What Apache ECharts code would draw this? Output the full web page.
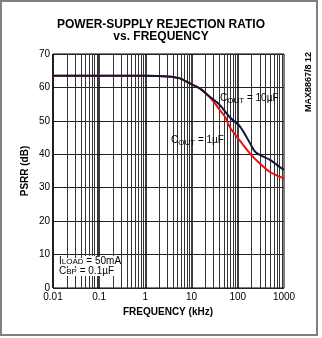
<!DOCTYPE html>
<html>
<head>
<meta charset="utf-8">
<script src="https://cdn.jsdelivr.net/npm/echarts@6/dist/echarts.min.js"></script>
<style>
  html, body { margin: 0; padding: 0; background: #fff; }
  #chart { width: 322px; height: 338px; }
</style>
</head>
<body>
<div id="chart"></div>
<script>
// PSRR vs frequency, two output capacitor values
const freqKHz10uF = [0.01, 1, 3, 5.6, 9.2, 15, 25, 41, 68, 112, 184, 236, 303, 498, 891, 1000];
const psrr10uF    = [63.5, 63.5, 63.3, 62.7, 61.2, 59.7, 57.2, 54.7, 51.0, 48.3, 43.3, 40.8, 39.8, 38.3, 35.8, 35.4];

const freqKHz1uF  = [0.01, 1, 3, 5.6, 9.2, 15, 25, 32, 41, 53, 68, 112, 184, 303, 498, 966, 1000];
const psrr1uF     = [63.5, 63.5, 63.3, 62.7, 61.2, 59.7, 57.0, 55.2, 53.2, 51.2, 48.0, 44.0, 40.2, 37.2, 34.7, 32.8, 32.6];

const xTickLabels = ['0.01', '0.1', '1', '10', '100', '1000'];
const yTicks = [0, 10, 20, 30, 40, 50, 60, 70];

// vertical grid lines at 1..9 of each decade
const decades = [0.01, 0.1, 1, 10, 100];
const vLines = [];
decades.forEach(d => {
  for (let k = 1; k <= 9; k++) {
    vLines.push({ xAxis: +(k * d).toPrecision(3), lineStyle: { color: k === 1 ? '#000' : '#333', width: k === 1 ? 1.5 : 1 } });
  }
});

const FONT = 'Liberation Sans, Arial, sans-serif';
const chart = echarts.init(document.getElementById('chart'), null, { renderer: 'canvas' });

const gridL = 53, gridR = 38, gridT = 54, gridB = 50;

const subRich = {
  b: { fontSize: 10, fontFamily: FONT, lineHeight: 13 },
  s: { fontSize: 8, fontFamily: FONT, verticalAlign: 'bottom', lineHeight: 8 }
};

chart.setOption({
  animation: false,
  backgroundColor: '#fff',
  grid: { left: gridL, right: gridR, top: gridT, bottom: gridB, show: true, borderColor: '#000', borderWidth: 1 },
  xAxis: {
    type: 'log', logBase: 10, min: 0.01, max: 1000,
    axisLine: { show: false }, axisTick: { show: false },
    splitLine: { show: false },
    axisLabel: {
      color: '#000', fontFamily: FONT, fontSize: 10, margin: 4,
      formatter: v => {
        const i = Math.round(Math.log10(v)) + 2;
        return xTickLabels[i] !== undefined ? xTickLabels[i] : '';
      }
    }
  },
  yAxis: {
    type: 'value', min: yTicks[0], max: yTicks[yTicks.length - 1], interval: 10,
    axisLine: { show: false }, axisTick: { show: false },
    splitLine: { show: true, lineStyle: { color: '#222', width: 1 } },
    axisLabel: { color: '#000', fontFamily: FONT, fontSize: 10, margin: 3 }
  },
  series: [
    {
      name: 'COUT = 1uF', type: 'line', smooth: 0.3, showSymbol: false,
      lineStyle: { color: '#ee1111', width: 2 },
      data: freqKHz1uF.map((f, i) => [f, psrr1uF[i]]), z: 3,
      markLine: {
        silent: true, symbol: ['none', 'none'], label: { show: false },
        lineStyle: { color: '#333', width: 1, type: 'solid' },
        emphasis: { disabled: true },
        z: 1,
        data: vLines
      }
    },
    {
      name: 'COUT = 10uF', type: 'line', smooth: 0.3, showSymbol: false,
      lineStyle: { color: '#141438', width: 2 },
      data: freqKHz10uF.map((f, i) => [f, psrr10uF[i]]), z: 4
    }
  ],
  graphic: [
    { type: 'rect', shape: { x: 1, y: 1, width: 316, height: 334 }, style: { fill: 'none', stroke: '#808080', lineWidth: 2 }, silent: true },
    { type: 'text', x: 161, y: 19, style: { text: 'POWER-SUPPLY REJECTION RATIO', font: 'bold 12px ' + FONT, fill: '#000', textAlign: 'center' } },
    { type: 'text', x: 161, y: 31, style: { text: 'vs. FREQUENCY', font: 'bold 12px ' + FONT, fill: '#000', textAlign: 'center' } },
    { type: 'text', x: 168, y: 307, style: { text: 'FREQUENCY (kHz)', font: 'bold 10px ' + FONT, fill: '#000', textAlign: 'center' } },
    { type: 'text', x: 20, y: 171, rotation: Math.PI / 2, style: { text: 'PSRR (dB)', font: 'bold 10px ' + FONT, fill: '#000', textAlign: 'center', textVerticalAlign: 'top' } },
    { type: 'text', x: 304, y: 82, rotation: Math.PI / 2, style: { text: 'MAX8867/8 12', font: 'bold 9px ' + FONT, fill: '#000', textAlign: 'center', textVerticalAlign: 'top' } },
    {
      type: 'text', x: 220, y: 92, z: 10,
      style: { text: '{b|C}{s|OUT}{b| = 10µF}', fill: '#000', rich: subRich }
    },
    {
      type: 'text', x: 171, y: 134, z: 10,
      style: { text: '{b|C}{s|OUT}{b| = 1µF}', fill: '#000', rich: subRich }
    },
    {
      type: 'text', x: 59, y: 256, z: 10,
      style: {
        text: '{b|I}{s|LOAD}{b| = 50mA}\n{b|C}{s|BP}{b| = 0.1µF}', fill: '#000',
        rich: {
          b: { fontSize: 10, fontFamily: FONT, lineHeight: 10, backgroundColor: '#fff' },
          s: { fontSize: 8, fontFamily: FONT, verticalAlign: 'bottom', lineHeight: 7, backgroundColor: '#fff' }
        }
      }
    }
  ]
});
</script>
</body>
</html>
